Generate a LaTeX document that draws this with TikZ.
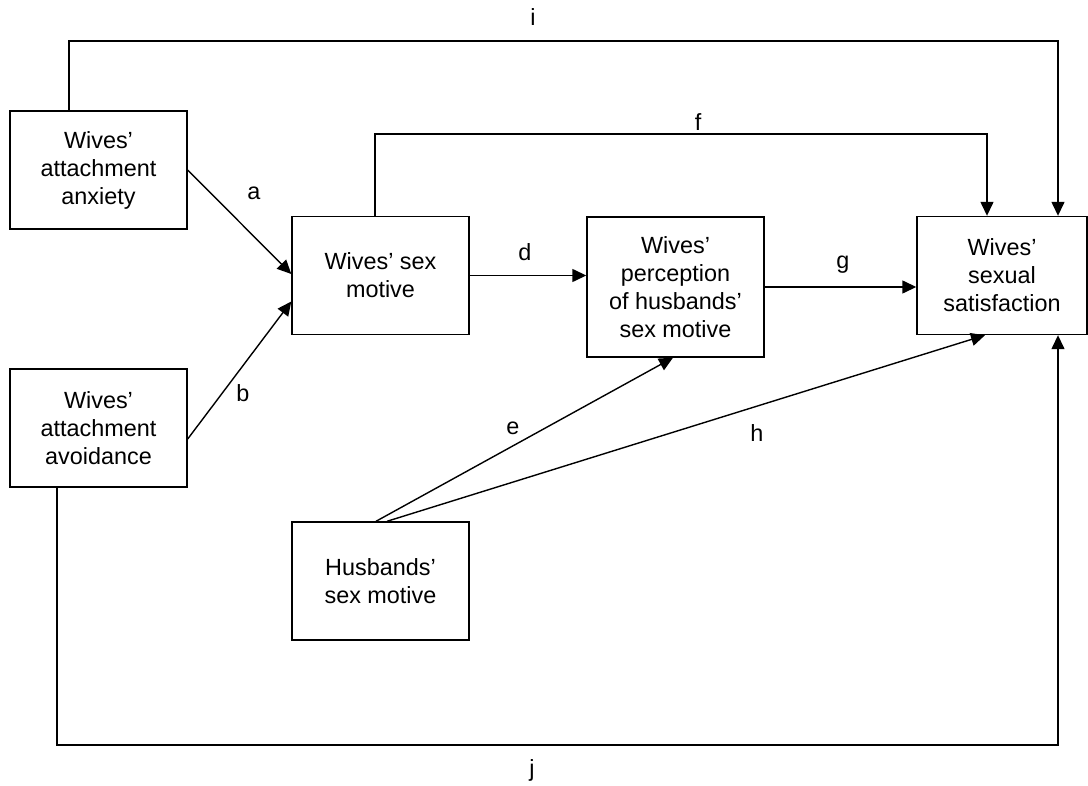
\documentclass[tikz,border=0pt]{standalone}
\usepackage{fontspec}
\setmainfont{Liberation Sans}
\usepackage{tikz}
\usetikzlibrary{arrows.meta,shapes}
\tikzstyle{factor}=[rectangle, draw
,line width=0.7pt
,minimum width=88.5pt
,minimum height=59pt
,inner sep=0pt
,align=center
,font=\fontsize{11.7pt}{14pt}\selectfont
]
\tikzstyle{tall factor} = [factor, minimum height=70pt]
\tikzstyle{outcome factor} = [factor, minimum width=85pt]
\tikzstyle{link} = [draw,line width=0.7pt,-{Triangle[length=7pt,width=6.5pt]}]
\tikzstyle{path label} = [inner sep=0pt,font=\fontsize{11.7pt}{14pt}\selectfont]

\begin{document}
\begin{tikzpicture}[x=0.5pt,y=-0.5pt]
    \useasboundingbox (0,0) rectangle (1088,786);
    % First we draw the boxes
    \foreach \pos/\name/\txt in {{(98.5,170)/anx/{Wives'\\attachment\\anxiety}},
        {(98.5,428)/avo/{Wives'\\attachment\\avoidance}},
        {(380.5,275.5)/wsm/{Wives' sex\\motive}},
        {(380.5,581)/hsm/{Husbands'\\sex motive}}}
        \node[factor] (\name) at \pos {\txt};

    \node[tall factor] (per) at (675.5,287) {Wives'\\perception\\of husbands'\\sex motive};
    \node[outcome factor] (sat) at (1002,275.5) {Wives'\\sexual\\satisfaction};

    % Corners of the long paths
    \coordinate (ileft) at (69,41);
    \coordinate (iright) at (1058,41);
    \coordinate (fleft) at (375,134);
    \coordinate (fright) at (987,134);
    \coordinate (jleft) at (57,745);
    \coordinate (jright) at (1058,745);

    % Connect boxes with arrows
    \path[link] (anx.east) -- ([yshift=0.75pt]wsm.west);
    \path[link] ([yshift=-5.5pt]avo.east) -- ([yshift=-13pt]wsm.west);
    \path[link] (wsm.east) -- (wsm.east -| per.west);
    \path[link] (per.east) -- (per.east -| sat.west);
    \path[link] ([xshift=-2.25pt]hsm.north) -- ([xshift=-1.25pt]per.south);
    \path[link] ([xshift=3.25pt]hsm.north) -- ([xshift=-8.5pt]sat.south);
    \path[link] (wsm.north -| fleft) -- (fleft) -- (fright) -- (sat.north -| fright);
    \path[link] (anx.north -| ileft) -- (ileft) -- (iright) -- (sat.north -| iright);
    \path[link] (avo.south -| jleft) -- (jleft) -- (jright) -- (sat.south -| jright);

    % Path labels
    \foreach \pos/\name in {{(254,193)/a}, {(243,393)/b}, {(525,252)/d}, {(513,428)/e},
        {(698,122)/f}, {(843,265)/g}, {(757,433)/h}, {(533,17)/i}, {(532,770)/j}}
        \node[path label] (lab\name) at \pos {\name};
\end{tikzpicture}
\end{document}
